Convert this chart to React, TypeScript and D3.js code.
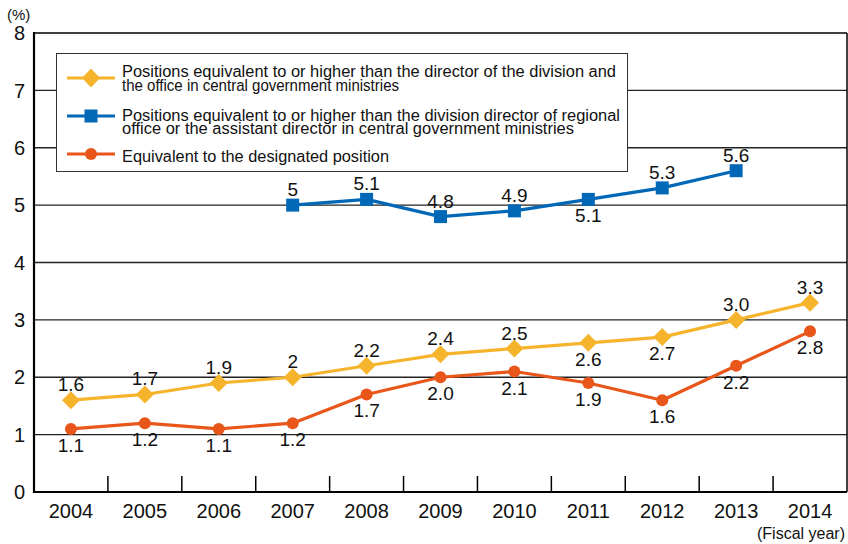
import React from "react";
import * as d3 from "d3";

const years = ["2004","2005","2006","2007","2008","2009","2010","2011","2012","2013","2014"];
const directorVals: (number|null)[] = [1.6,1.7,1.9,2.0,2.2,2.4,2.5,2.6,2.7,3.0,3.3];
const directorLabels = ["1.6","1.7","1.9","2","2.2","2.4","2.5","2.6","2.7","3.0","3.3"];
const directorPos = ["a","a","a","a","a","a","a","b","b","a","a"];
const regionalVals: (number|null)[] = [null,null,null,5.0,5.1,4.8,4.9,5.1,5.3,5.6,null];
const regionalLabels = ["","","","5","5.1","4.8","4.9","5.1","5.3","5.6",""];
const regionalPos = ["","","","a","a","a","a","b","a","a",""];
const designatedVals: (number|null)[] = [1.1,1.2,1.1,1.2,1.7,2.0,2.1,1.9,1.6,2.2,2.8];
const designatedLabels = ["1.1","1.2","1.1","1.2","1.7","2.0","2.1","1.9","1.6","2.2","2.8"];
const designatedPos = ["b","b","b","b","b","b","b","b","b","b","b"];
const yTicks = [0,1,2,3,4,5,6,7,8];
const legendLines = [
  ["Positions equivalent to or higher than the director of the division and", "the office in central government ministries"],
  ["Positions equivalent to or higher than the division director of regional", "office or the assistant director in central government ministries"],
  ["Equivalent to the designated position"],
];

const YELLOW = "#F6B42D";
const BLUE = "#0068B6";
const ORANGE = "#E8561A";
const FONT = "'Liberation Sans', Arial, sans-serif";

export default function App() {
  const left = 34, right = 847, top = 33, bottom = 492;
  const x = d3.scaleBand<string>().domain(years).range([left, right]);
  const y = d3.scaleLinear().domain([0, 8]).range([bottom, top]);
  const cx = (i: number) => (x(years[i]) as number) + x.bandwidth() / 2;

  const line = d3.line<[number, number | null]>()
    .defined(d => d[1] !== null)
    .x(d => cx(d[0]))
    .y(d => y(d[1] as number));

  const series = [
    { vals: directorVals, labels: directorLabels, pos: directorPos, color: YELLOW, shape: "diamond" },
    { vals: regionalVals, labels: regionalLabels, pos: regionalPos, color: BLUE, shape: "square" },
    { vals: designatedVals, labels: designatedLabels, pos: designatedPos, color: ORANGE, shape: "circle" },
  ];

  const marker = (shape: string, px: number, py: number, color: string, key: any) => {
    if (shape === "diamond") {
      const rx = 9, ry = 9;
      return <path key={key} d={`M${px},${py - ry}L${px + rx},${py}L${px},${py + ry}L${px - rx},${py}Z`} fill={color} />;
    }
    if (shape === "square") {
      return <rect key={key} x={px - 6.5} y={py - 6.5} width={13} height={13} fill={color} />;
    }
    return <circle key={key} cx={px} cy={py} r={6} fill={color} />;
  };

  const legendRows = [78, 116, 154];
  const legendBase = [[76.7, 90.5], [120.7, 134], [161.7]];
  const legendLen = [[494, 277], [498, 452], [267]];

  return (
    <svg width={848} height={544} style={{ position: "absolute", left: 0, top: 0, background: "#fff" }} fontFamily={FONT}>
      {/* gridlines */}
      {yTicks.filter(t => t > 0 && t < 8).map(t => (
        <line key={t} x1={left} x2={right} y1={y(t)} y2={y(t)} stroke="#222" strokeWidth={1.3} />
      ))}
      {/* frame */}
      <line x1={left} x2={right} y1={y(8)} y2={y(8)} stroke="#000" strokeWidth={1.5} />
      <line x1={right} x2={right} y1={y(8)} y2={bottom} stroke="#000" strokeWidth={1.5} />
      <line x1={left} x2={left} y1={y(8) - 1} y2={bottom + 1} stroke="#000" strokeWidth={2.2} />
      <line x1={left - 1} x2={right} y1={bottom} y2={bottom} stroke="#000" strokeWidth={2.2} />
      {/* x ticks */}
      {years.slice(1).map(yr => (
        <line key={yr} x1={x(yr) as number} x2={x(yr) as number} y1={bottom - 16} y2={bottom} stroke="#000" strokeWidth={1.5} />
      ))}
      {/* y labels */}
      {yTicks.map(t => (
        <text key={t} x={25} y={y(t)} dy="0.36em" textAnchor="end" fontSize={20} fill="#111">{t}</text>
      ))}
      <text x={7} y={20} fontSize={15} fill="#111">(%)</text>
      {/* x labels */}
      {years.map((yr, i) => (
        <text key={yr} x={cx(i)} y={518} textAnchor="middle" fontSize={20} fill="#111">{yr}</text>
      ))}
      <text x={757} y={539} fontSize={16} fill="#111">(Fiscal year)</text>

      {/* legend */}
      <rect x={56.5} y={53.5} width={571} height={118} fill="#fff" stroke="#333" strokeWidth={1} />
      {legendRows.map((ly, i) => {
        const s = series[i];
        return (
          <g key={i}>
            <line x1={67} x2={115} y1={ly} y2={ly} stroke={s.color} strokeWidth={3.2} />
            {s.shape === "diamond"
              ? <path d={`M91,${ly - 9.5}L100,${ly}L91,${ly + 9.5}L82,${ly}Z`} fill={s.color} />
              : s.shape === "square"
                ? <rect x={84.5} y={ly - 6.5} width={13} height={13} fill={s.color} />
                : <circle cx={91} cy={ly} r={6} fill={s.color} />}
            {legendLines[i].map((txt, j) => (
              <text key={j} x={122} y={legendBase[i][j]} fontSize={16} fill="#111" textLength={legendLen[i][j]} lengthAdjust="spacingAndGlyphs">{txt}</text>
            ))}
          </g>
        );
      })}

      {/* series */}
      {series.map((s, si) => (
        <g key={si}>
          <path d={line(s.vals.map((v, i) => [i, v] as [number, number | null])) || ""} fill="none" stroke={s.color} strokeWidth={3.2} strokeLinejoin="round" />
          {s.vals.map((v, i) => v === null ? null : marker(s.shape, cx(i), y(v), s.color, i))}
          {s.vals.map((v, i) => v === null ? null : (
            <text key={"l" + i} x={cx(i)} y={y(v) + (s.pos[i] === "a" ? -9 : 23)} textAnchor="middle" fontSize={19} fill="#111">{s.labels[i]}</text>
          ))}
        </g>
      ))}
    </svg>
  );
}
